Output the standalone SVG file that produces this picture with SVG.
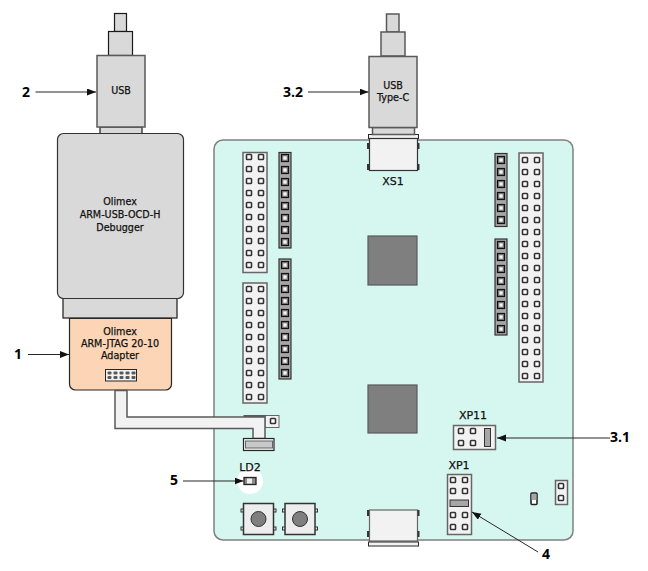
<svg xmlns="http://www.w3.org/2000/svg" width="648" height="571" viewBox="0 0 648 571">
  <style>
    .body { fill: #d9d9d9; stroke: #595959; stroke-width: 1.5; }
    .edge { fill: #d9d9d9; stroke: #1a1a1a; stroke-width: 1.2; }
    .hdr { fill: #f2f2f2; stroke: #666; stroke-width: 1.5; }
    .dark { fill: #a6a6a6; stroke: #333; stroke-width: 1.2; }
    .chip { fill: #7f7f7f; stroke: #595959; stroke-width: 1.2; }
    .jump { fill: #a6a6a6; stroke: #333; stroke-width: 1; }
    .pad { fill: #fff; stroke: #333; stroke-width: 1.6; }
    .wire { fill: none; stroke: #262626; stroke-width: 1; }
    .t { font-family: "DejaVu Sans", sans-serif; font-size: 9.6px; text-anchor: middle; fill: #111; stroke: #111; stroke-width: 0.25; }
    .ref { font-size: 11px; }
    .num { font-family: "Open Sans", "DejaVu Sans", sans-serif; font-weight: 700; font-size: 14px; text-anchor: middle; fill: #000; }
  </style>
  <defs>
    <marker id="head" markerWidth="10" markerHeight="8" refX="9" refY="3.500" orient="auto" markerUnits="userSpaceOnUse">
      <path d="M0 0L9 3.500L0 7z" fill="#111"/>
    </marker>
    <rect id="p" x="-2.500" y="-2.500" width="5" height="5" rx="0.800" class="pad"/>
    <g id="dp"><rect x="-3.500" y="-3.500" width="7" height="7" fill="#808080" stroke="#111" stroke-width="1.200"/><rect x="-1.700" y="-1.700" width="3.400" height="3.400" fill="#f2f2f2"/></g>
    <g id="row"><use href="#p" x="0"/><use href="#p" x="12"/></g>
    <g id="btn">
      <g fill="#e6e6e6" stroke="#333" stroke-width="1">
        <rect x="-2" y="6" width="3" height="3"/><rect x="30" y="6" width="3" height="3"/>
        <rect x="-2" y="24" width="3" height="3"/><rect x="30" y="24" width="3" height="3"/>
      </g>
      <rect x="0.500" y="0.500" width="30" height="31" fill="#ededed" stroke="#333" stroke-width="1.500"/>
      <circle cx="15.500" cy="16" r="7.500" fill="#7f7f7f" stroke="#333" stroke-width="1"/>
    </g>
  </defs>

  <g id="board">
    <rect x="214" y="140" width="359" height="400" rx="9" fill="#d6f7f0" stroke="#808080" stroke-width="1.500"/>
    <circle cx="250" cy="481" r="13" fill="#fff"/>
  </g>

  <g id="header-left-1">
    <rect x="243" y="152.500" width="24" height="120" class="hdr"/>
    <use href="#row" x="249" y="157"/><use href="#row" x="249" y="169"/><use href="#row" x="249" y="181"/><use href="#row" x="249" y="193"/><use href="#row" x="249" y="205"/><use href="#row" x="249" y="217"/><use href="#row" x="249" y="229"/><use href="#row" x="249" y="241"/><use href="#row" x="249" y="253"/><use href="#row" x="249" y="265"/>
  </g>
  <g id="header-left-2">
    <rect x="243" y="283" width="24" height="120" class="hdr"/>
    <use href="#row" x="249" y="289"/><use href="#row" x="249" y="301"/><use href="#row" x="249" y="313"/><use href="#row" x="249" y="325"/><use href="#row" x="249" y="337"/><use href="#row" x="249" y="349"/><use href="#row" x="249" y="361"/><use href="#row" x="249" y="373"/><use href="#row" x="249" y="385"/><use href="#row" x="249" y="397"/>
  </g>
  <g id="socket-left-1">
    <rect x="279" y="152.500" width="12" height="95.500" class="dark"/>
    <use href="#dp" x="285" y="158"/><use href="#dp" x="285" y="170"/><use href="#dp" x="285" y="182"/><use href="#dp" x="285" y="194"/><use href="#dp" x="285" y="206"/><use href="#dp" x="285" y="218"/><use href="#dp" x="285" y="230"/><use href="#dp" x="285" y="242"/>
  </g>
  <g id="socket-left-2">
    <rect x="279" y="259" width="12" height="120" class="dark"/>
    <use href="#dp" x="285" y="265"/><use href="#dp" x="285" y="277"/><use href="#dp" x="285" y="289"/><use href="#dp" x="285" y="301"/><use href="#dp" x="285" y="313"/><use href="#dp" x="285" y="325"/><use href="#dp" x="285" y="337"/><use href="#dp" x="285" y="349"/><use href="#dp" x="285" y="361"/><use href="#dp" x="285" y="373"/>
  </g>
  <g id="socket-right-1">
    <rect x="495" y="153.500" width="12" height="73" class="dark"/>
    <use href="#dp" x="501" y="160"/><use href="#dp" x="501" y="172"/><use href="#dp" x="501" y="184"/><use href="#dp" x="501" y="196"/><use href="#dp" x="501" y="208"/><use href="#dp" x="501" y="220"/>
  </g>
  <g id="socket-right-2">
    <rect x="495" y="239" width="12" height="96" class="dark"/>
    <use href="#dp" x="501" y="245"/><use href="#dp" x="501" y="257"/><use href="#dp" x="501" y="269"/><use href="#dp" x="501" y="281"/><use href="#dp" x="501" y="293"/><use href="#dp" x="501" y="305"/><use href="#dp" x="501" y="317"/><use href="#dp" x="501" y="329"/>
  </g>
  <g id="header-right">
    <rect x="519" y="153" width="24" height="229" class="hdr"/>
    <use href="#row" x="525" y="160"/><use href="#row" x="525" y="172"/><use href="#row" x="525" y="184"/><use href="#row" x="525" y="196"/><use href="#row" x="525" y="208"/><use href="#row" x="525" y="220"/><use href="#row" x="525" y="232"/><use href="#row" x="525" y="244"/><use href="#row" x="525" y="256"/><use href="#row" x="525" y="268"/><use href="#row" x="525" y="280"/><use href="#row" x="525" y="292"/><use href="#row" x="525" y="304"/><use href="#row" x="525" y="316"/><use href="#row" x="525" y="328"/><use href="#row" x="525" y="340"/><use href="#row" x="525" y="352"/><use href="#row" x="525" y="364"/><use href="#row" x="525" y="376"/>
  </g>

  <g id="chip-1"><rect x="368" y="236" width="49" height="49" class="chip"/></g>
  <g id="chip-2"><rect x="368" y="385" width="49" height="48" class="chip"/></g>

  <g id="xs1">
    <rect x="368.500" y="134.500" width="50" height="4" fill="#f2f2f2" stroke="#262626"/>
    <rect x="369.500" y="138.500" width="48" height="32" fill="#f2f2f2" stroke="#333" stroke-width="1.200"/>
    <g fill="#333"><rect x="367" y="143" width="2" height="6"/><rect x="367" y="164" width="2" height="6"/><rect x="417.500" y="143" width="2" height="6"/><rect x="417.500" y="164" width="2" height="6"/></g>
    <text x="393" y="185" class="t ref">XS1</text>
  </g>
  <g id="usb-bottom">
    <rect x="369.500" y="510" width="48" height="31" fill="#f2f2f2" stroke="#666" stroke-width="1.200"/>
    <rect x="368.500" y="542" width="50" height="4" fill="#f2f2f2" stroke="#262626"/>
    <g fill="#333"><rect x="367" y="510" width="2" height="6"/><rect x="367" y="531" width="2" height="6"/><rect x="417.500" y="510" width="2" height="6"/><rect x="417.500" y="531" width="2" height="6"/></g>
  </g>

  <g id="xp11">
    <text x="473" y="419" class="t ref">XP11</text>
    <rect x="453.500" y="425.500" width="42" height="24" class="hdr"/>
    <use href="#row" x="461" y="431"/><use href="#row" x="461" y="443"/>
    <rect x="484.500" y="428.500" width="6" height="18" class="jump"/>
  </g>
  <g id="xp1">
    <text x="459" y="469" class="t ref">XP1</text>
    <rect x="447.500" y="474.500" width="24" height="60" class="hdr"/>
    <use href="#row" x="453" y="480"/><use href="#row" x="453" y="491"/><use href="#row" x="453" y="515"/><use href="#row" x="453" y="527"/>
    <rect x="450" y="500" width="18.500" height="6.500" class="jump"/>
  </g>

  <g id="small-part"><rect x="531" y="493" width="6" height="11.500" rx="1" fill="#fff" stroke="#222" stroke-width="1.600"/><rect x="531.500" y="494" width="5" height="6" fill="#a6a6a6"/></g>
  <g id="small-header">
    <rect x="555.500" y="480.500" width="12" height="24" class="hdr"/>
    <use href="#p" x="561" y="486"/><use href="#p" x="561" y="498"/>
  </g>

  <g id="ld2">
    <text x="250" y="471" class="t ref">LD2</text>
    <rect x="244" y="477.500" width="12" height="7" fill="#8c8c8c" stroke="#222" stroke-width="1.300"/>
    <rect x="247" y="478.500" width="5" height="5" fill="#eee"/>
  </g>
  <g id="button-1"><use href="#btn" x="243" y="503"/></g>
  <g id="button-2"><use href="#btn" x="284.500" y="503"/></g>

  <g id="usb-plug">
    <rect x="114.500" y="13.500" width="12" height="18" class="edge"/>
    <rect x="108.500" y="31.500" width="24" height="24" class="edge"/>
    <rect x="100" y="127" width="42" height="7" class="edge"/>
    <rect x="97" y="55.500" width="48" height="71.500" class="body"/>
    <text x="121" y="94" class="t">USB</text>
  </g>
  <g id="usb-c-plug">
    <rect x="386.500" y="14" width="12.500" height="18" class="body"/>
    <rect x="381" y="32" width="24" height="24" class="body"/>
    <rect x="372.500" y="127.500" width="42" height="7" class="body"/>
    <rect x="369" y="56.500" width="48" height="71" class="body"/>
    <text x="393" y="89" class="t">USB</text>
    <text x="393" y="101" class="t">Type-C</text>
  </g>
  <g id="debugger">
    <rect x="63" y="297" width="114" height="21" class="edge"/>
    <rect x="57.500" y="133.500" width="126" height="165" rx="6" fill="#d9d9d9" stroke="#333" stroke-width="1.200"/>
    <text x="120" y="205" class="t">Olimex</text>
    <text x="120" y="218" class="t">ARM-USB-OCD-H</text>
    <text x="120" y="231" class="t">Debugger</text>
  </g>
  <g id="adapter">
    <path d="M69.500 318.500H171.500V384a6 6 0 0 1-6 6H75.500a6 6 0 0 1-6-6z" fill="#fbd5b5" stroke="#262626" stroke-width="1.200"/>
    <text x="120" y="335" class="t">Olimex</text>
    <text x="120" y="347" class="t">ARM-JTAG 20-10</text>
    <text x="120" y="359" class="t">Adapter</text>
    <rect x="105.500" y="369.500" width="31" height="11.500" fill="#f2f2f2" stroke="#262626"/>
    <g fill="#595959">
      <rect x="107.500" y="371.500" width="4" height="3" rx="1"/><rect x="113.500" y="371.500" width="4" height="3" rx="1"/><rect x="119.500" y="371.500" width="4" height="3" rx="1"/><rect x="125.500" y="371.500" width="4" height="3" rx="1"/><rect x="131.500" y="371.500" width="4" height="3" rx="1"/>
      <rect x="107.500" y="376" width="4" height="3" rx="1"/><rect x="113.500" y="376" width="4" height="3" rx="1"/><rect x="119.500" y="376" width="4" height="3" rx="1"/><rect x="125.500" y="376" width="4" height="3" rx="1"/><rect x="131.500" y="376" width="4" height="3" rx="1"/>
    </g>
  </g>
  <g id="jtag-cable">
    <rect x="265" y="415.500" width="14" height="12" fill="#f2f2f2" stroke="#666" stroke-width="1"/>
    <use href="#p" x="273" y="421"/>
    <rect x="243.500" y="415" width="22" height="2" fill="#595959"/>
    <path d="M115 390.500V428.500H253V438.500H265V417H127V390.500z" fill="#f2f2f2" stroke="#595959" stroke-width="1.500"/>
    <rect x="243.500" y="438.500" width="30.500" height="12" fill="#f2f2f2" stroke="#262626" stroke-width="1.200"/>
    <rect x="245.500" y="441" width="27" height="7" fill="#c8c8c8" stroke="#666" stroke-width="1"/>
  </g>

  <g id="connectors">
    <line x1="35.500" y1="92" x2="96" y2="92" class="wire" marker-end="url(#head)"/>
    <line x1="308" y1="92" x2="368.500" y2="92" class="wire" marker-end="url(#head)"/>
    <line x1="28" y1="354.500" x2="69" y2="354.500" class="wire" marker-end="url(#head)"/>
    <line x1="183" y1="481" x2="243.500" y2="481" class="wire" marker-end="url(#head)"/>
    <line x1="610" y1="438" x2="497" y2="438" class="wire" marker-end="url(#head)"/>
    <line x1="538" y1="552" x2="472" y2="512" class="wire" marker-end="url(#head)"/>
  </g>
  <g id="callouts">
    <text x="26" y="97" class="num">2</text>
    <text x="293" y="97" class="num">3.2</text>
    <text x="18" y="359" class="num">1</text>
    <text x="174" y="485" class="num">5</text>
    <text x="620" y="442" class="num">3.1</text>
    <text x="546" y="559" class="num">4</text>
  </g>
</svg>
